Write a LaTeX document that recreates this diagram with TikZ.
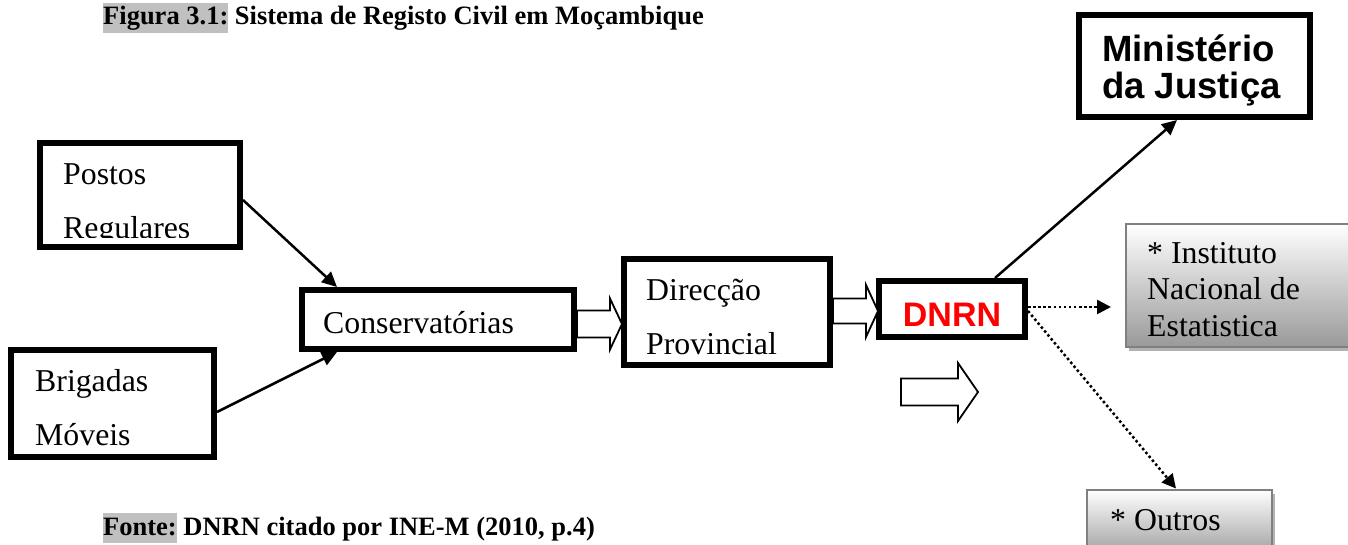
\documentclass[tikz,border=0pt]{standalone}
\usepackage{fontspec}
\setmainfont{Liberation Serif}
\newfontfamily\arialf{Liberation Sans}
\usetikzlibrary{arrows.meta,shadows}
\definecolor{hl}{HTML}{C0C0C0}
\definecolor{dnrnred}{HTML}{FF0000}
\newcommand\hlbox[1]{{\setlength\fboxsep{0pt}\colorbox{hl}{\rule[-8pt]{0pt}{30pt}#1}}}
% #1 x start, #2 x head base, #3 x tip, #4 y centre, #5 shaft half, #6 head half
\newcommand\blkarrow[6]{\draw[blkarrow] (#1,#4-#5) -- (#2,#4-#5) -- (#2,#4-#6) -- (#3,#4) -- (#2,#4+#6) -- (#2,#4+#5) -- (#1,#4+#5) -- cycle;}
\begin{document}
\begin{tikzpicture}[x=1pt,y=-1pt,
  thickbox/.style={draw, line width=6pt, fill=white, inner sep=0pt, rectangle},
  graybox/.style={draw=black!50, line width=2pt, top color=white, bottom color=black!40, inner sep=0pt, rectangle,
     drop shadow={shadow xshift=3pt, shadow yshift=-4pt, fill=black!30, opacity=1}},
  txt/.style={inner sep=0pt, anchor=base west, font=\fontsize{31.8}{36}\selectfont},
  captxt/.style={inner sep=0pt, anchor=base west, font=\bfseries\fontsize{26.5}{30}\selectfont},
  conn/.style={line width=2.5pt, -{Triangle[length=15pt,width=14pt]}},
  dotconn/.style={line width=2.5pt, dash pattern=on 2.5pt off 2.6pt, -{Triangle[length=14pt,width=14pt]}},
  blkarrow/.style={draw, line width=1.8pt, fill=white, line join=miter}]
\useasboundingbox (0,0) rectangle (1348,545);
\clip (0,0) rectangle (1348,545);

% caption and source
\node[captxt] (title) at (103,25) {\hlbox{Figura 3.1:} Sistema de Registo Civil em Moçambique};
\node[captxt] (fonte) at (103,535) {\hlbox{Fonte:} DNRN citado por INE-M (2010, p.4)};

% boxes
\node[thickbox, minimum width=200pt, minimum height=104pt] (postos) at (140,195) {};
\node[thickbox, minimum width=203pt, minimum height=107pt] (brigadas) at (112.5,403.5) {};
\node[thickbox, minimum width=272pt, minimum height=59pt] (conserv) at (438,319.5) {};
\node[thickbox, minimum width=206pt, minimum height=106pt] (direccao) at (727,312) {};
\node[thickbox, minimum width=146pt, minimum height=56pt] (dnrn) at (952,309) {};
\node[thickbox, minimum width=231pt, minimum height=102pt] (ministerio) at (1194.5,66) {};
\node[graybox, minimum width=223pt, minimum height=123pt] (instituto) at (1237.5,285.5) {};
\node[graybox, minimum width=185pt, minimum height=70pt] (outros) at (1179.5,524.5) {};

% texts
\begin{scope}
\clip (40,143) rectangle (240,238);
\node[txt] (postosA) at (63,185) {Postos};
\node[txt] (postosB) at (63,239) {Regulares};
\end{scope}
\node[txt] (brigA) at (35,391) {Brigadas};
\node[txt] (brigB) at (35,445) {Móveis};
\node[txt] (conservT) at (323,333) {Conservatórias};
\node[txt] (dirA) at (646,300) {Direcção};
\node[txt] (dirB) at (646,354) {Provincial};
\node[inner sep=0pt, anchor=base, font=\arialf\bfseries\fontsize{34}{36}\selectfont, text=dnrnred] (dnrnT) at (952,326) {DNRN};
\node[inner sep=0pt, anchor=base west, font=\arialf\bfseries\fontsize{36.5}{36}\selectfont] (minA) at (1102,62) {Ministério};
\node[inner sep=0pt, anchor=base west, font=\arialf\bfseries\fontsize{36.5}{36}\selectfont] (minB) at (1102,99) {da Justiça};
\node[txt] (instA) at (1147,263) {* Instituto};
\node[txt] (instB) at (1147,299.5) {Nacional de};
\node[txt] (instC) at (1147,336) {Estatistica};
\node[txt] (outrosT) at (1110,530) {* Outros};

% connectors
\draw[conn] (postos.east |- 0,200) -- (conserv.north -| 337,0);
\draw[conn] (brigadas.east |- 0,412) -- (conserv.south -| 337,0);
\draw[conn] (dnrn.north -| 995,0) -- (ministerio.south -| 1177,0);
\coordinate (insttip) at (1111,307);
\draw[dotconn] (dnrn.east |- 0,307) -- (insttip);
\draw[dotconn] (dnrn.east |- 0,311) -- (outros.north -| 1176,0);

% block arrows
\blkarrow{577}{610}{622}{324}{13.5}{25.5}
\blkarrow{833}{866}{878}{311}{12.5}{26}
\blkarrow{901}{958}{978}{392}{13.5}{29}
\end{tikzpicture}
\end{document}
